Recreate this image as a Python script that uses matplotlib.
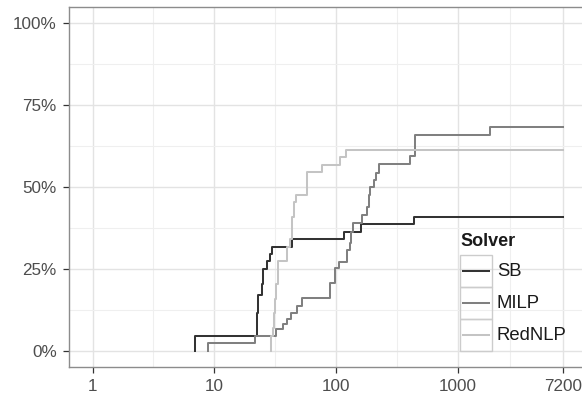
import matplotlib
matplotlib.use("Agg")
import matplotlib.pyplot as plt
from matplotlib.patches import Rectangle
from matplotlib.lines import Line2D

plt.rcParams["font.family"] = ["Liberation Sans", "DejaVu Sans"]

# ------------------------------------------------------------------
# Values.
# time = solve time (s) where the curve steps up,
# pct  = share of instances solved (%) right after that step.
# ------------------------------------------------------------------
solvers = ["SB", "MILP", "RedNLP"]
colors = ["#333333", "#808080", "#c4c4c4"]

sb_time = [6.9, 22.4, 23.0, 24.4, 25.1, 26.8, 28.5, 29.8, 43.5, 115, 160, 432]
sb_pct = [4.5, 11.4, 17.0, 20.5, 25.0, 27.3, 29.5, 31.8, 34.1, 36.4, 38.6, 40.9]

milp_time = [8.9, 21.7, 32.3, 36.2, 39.6, 42.9, 47.2, 52.8, 89.6, 98.5, 104.8,
             122.9, 129.1, 130.8, 137.6, 163.1, 179.3, 184.8, 190.8, 203.0,
             213.7, 223.2, 406, 446, 1816]
milp_pct = [2.3, 4.5, 6.6, 8.1, 9.7, 11.5, 13.5, 16.1, 20.6, 25.2, 27.2,
            30.8, 32.8, 36.4, 38.9, 41.5, 44.0, 47.6, 50.1, 52.1,
            54.2, 57.0, 59.5, 65.9, 68.2]

rednlp_time = [28.9, 29.4, 30.0, 30.7, 31.4, 32.1, 33.4, 39.6, 42.1, 43.5,
               44.8, 46.3, 57.7, 76.6, 106.8, 119.0]
rednlp_pct = [2.3, 4.5, 6.8, 11.4, 15.9, 20.5, 27.3, 31.8, 34.1, 40.9,
              45.5, 47.7, 54.7, 56.8, 59.1, 61.4]

time_limit = 7200
x_breaks = [1, 10, 100, 1000, 7200]
x_labels = ["1", "10", "100", "1000", "7200"]
y_breaks = [0, 25, 50, 75, 100]
y_labels = ["0%", "25%", "50%", "75%", "100%"]


def step_xy(times, pct):
    # curve starts at 0% at the first solve time and runs on to the time limit
    x = [times[0]] + list(times) + [time_limit]
    y = [0] + list(pct) + [pct[-1]]
    return x, y


W, H = 582, 399
fig = plt.figure(figsize=(W / 100, H / 100), dpi=100)

# ggplot-like 5% expansion on the log10 x scale and linear y scale
lx0, lx1 = 0.0, 3.857332
ex = 0.05 * (lx1 - lx0)
xlim = (10 ** (lx0 - ex), 10 ** (lx1 + ex))
ylim = (-5, 105)

left, right, top, bottom = 69, 586.2, 7, 367
ax = fig.add_axes([left / W, 1 - bottom / H, (right - left) / W, (bottom - top) / H])
ax.set_xscale("log")
ax.set_xlim(*xlim)
ax.set_ylim(*ylim)

for times, pct, col in zip([sb_time, milp_time, rednlp_time],
                           [sb_pct, milp_pct, rednlp_pct], colors):
    x, y = step_xy(times, pct)
    ax.step(x, y, where="post", color=col, lw=1.45, zorder=3)

# grid like theme_bw
ax.set_xticks(x_breaks)
ax.set_xticklabels(x_labels)
minor_x = [10 ** ((a + b) / 2) for a, b in zip(
    [0, 1, 2, 3], [1, 2, 3, lx1])]
ax.set_xticks(minor_x, minor=True)
ax.set_yticks(y_breaks)
ax.set_yticklabels(y_labels)
ax.set_yticks([12.5, 37.5, 62.5, 87.5], minor=True)
ax.grid(which="major", color="#e3e3e3", lw=1.0, zorder=0)
ax.grid(which="minor", color="#efefef", lw=0.8, zorder=0)
ax.set_axisbelow(True)

ax.tick_params(which="major", length=4.3, width=0.9, color="#333333",
               labelsize=12.3, labelcolor="#4d4d4d", pad=4.5)
ax.tick_params(which="minor", length=0)
for s in ax.spines.values():
    s.set_color("#8c8c8c")
    s.set_linewidth(1.0)

# legend drawn by hand to get the boxed ggplot keys
def fx(px):
    return px / W


def fy(py):
    return 1 - py / H


kx, ky, ks = 460, 255, 32
fig.text(fx(kx), fy(241.5), "Solver", fontsize=13, fontweight="bold",
         color="#1a1a1a", va="center", ha="left")
for i, (name, col) in enumerate(zip(solvers, colors)):
    y0 = ky + i * ks
    fig.patches.append(Rectangle((fx(kx), fy(y0 + ks)), ks / W, ks / H,
                                 transform=fig.transFigure, fill=False,
                                 edgecolor="#cccccc", lw=1.0))
    fig.lines.append(Line2D([fx(kx + 3), fx(kx + ks - 3)],
                            [fy(y0 + ks / 2)] * 2, transform=fig.transFigure,
                            color=col, lw=1.45))
    fig.text(fx(kx + ks + 5), fy(y0 + ks / 2), name, fontsize=13.3,
             color="#1a1a1a", va="center", ha="left")

fig.savefig("out.png", dpi=100)
